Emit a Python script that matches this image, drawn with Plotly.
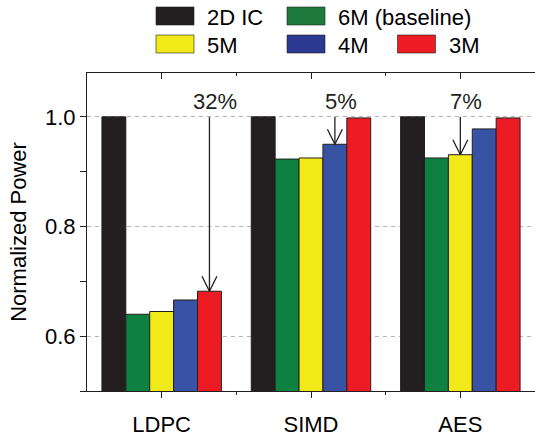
import plotly.graph_objects as go

# ---------------- data ----------------
categories = ["LDPC", "SIMD", "AES"]
series_names = ["2D IC", "6M (baseline)", "5M", "4M", "3M"]
val_2d = [1.000, 1.000, 1.000]
val_6m = [0.640, 0.923, 0.925]
val_5m = [0.645, 0.925, 0.931]
val_4m = [0.666, 0.950, 0.978]
val_3m = [0.682, 0.998, 0.998]
bar_colors = ["#231f20", "#0e8140", "#f2e918", "#3953a4", "#ed1c24"]
legend_colors = ["#231f20", "#1e7b3d", "#f2e918", "#2b3990", "#ed1c24"]

# arrows: which series is pointed at in each group, and the label
arrow_series = ["3M", "4M", "5M"]
arrow_labels = ["32%", "5%", "7%"]
arrow_top = 1.0

y_range = [0.5, 1.08]
y_ticks = [0.6, 0.8, 1.0]

# ---------------- layout constants ----------------
W, H = 535, 436
ML, MR, MT, MB = 87, 0, 73, 45
FONT = "Liberation Sans, Arial, Helvetica, sans-serif"
INK = "#231f20"
BARGAP = 0.2

all_vals = [val_2d, val_6m, val_5m, val_4m, val_3m]
xs = list(range(len(categories)))
n = len(series_names)
bw = (1 - BARGAP) / n

fig = go.Figure()
for name, vals, col in zip(series_names, all_vals, bar_colors):
    fig.add_trace(go.Bar(
        x=xs, y=vals, name=name, marker=dict(color=col, line=dict(color=INK, width=1)),
        showlegend=False, hoverinfo="skip",
    ))

# arrows (shaft + open V head) built from the data
ax_x, ax_y = [], []
px_per_x = (W - ML - MR) / (len(categories) - 0.5 + 0.5 + 0.0 - 0.013)  # approx
head_dx = 7.5 / 150.0
head_dy = 15.0 / ((H - MT - MB) / (y_range[1] - y_range[0]))
for i, (sname, lab) in enumerate(zip(arrow_series, arrow_labels)):
    k = series_names.index(sname)
    xc = i - (1 - BARGAP) / 2 + bw * (k + 0.5)
    yt = all_vals[k][i]
    ax_x += [xc, xc, None, xc - head_dx, xc, xc + head_dx, None]
    ax_y += [arrow_top, yt, None, yt + head_dy, yt, yt + head_dy, None]
    fig.add_annotation(x=xc, y=arrow_top, xref="x", yref="y", text=lab, showarrow=False,
                       xanchor="center", yanchor="middle", yshift=15, xshift=6,
                       font=dict(family=FONT, size=22, color=INK))
fig.add_trace(go.Scatter(x=ax_x, y=ax_y, mode="lines", line=dict(color=INK, width=1.3),
                         showlegend=False, hoverinfo="skip"))

# helper trace for top axis
fig.add_trace(go.Scatter(x=[None], y=[None], xaxis="x2", showlegend=False, hoverinfo="skip"))

# ---------------- manual legend ----------------
pw, ph = W - ML - MR, H - MT - MB
def px2paper(px, py):
    return (px - ML) / pw, (H - MB - py) / ph

legend_pos = {  # swatch left x, row center y (pixels)
    "2D IC": (156, 16), "6M (baseline)": (287, 16),
    "5M": (156, 44), "4M": (287, 44), "3M": (397.5, 44),
}
for name, col in zip(series_names, legend_colors):
    sx, sy = legend_pos[name]
    x0, y0 = px2paper(sx, sy + 9)
    x1, y1 = px2paper(sx + 38, sy - 9)
    fig.add_shape(type="rect", xref="paper", yref="paper", x0=x0, y0=y0, x1=x1, y1=y1,
                  fillcolor=col, line=dict(color=INK, width=0.6))
    tx, ty = px2paper(sx + 49, sy + 1)
    fig.add_annotation(x=tx, y=ty, xref="paper", yref="paper", text=name, showarrow=False,
                       xanchor="left", yanchor="middle",
                       font=dict(family=FONT, size=22, color="black"))

axis_common = dict(linecolor=INK, linewidth=1, zeroline=False)
fig.update_layout(
    width=W, height=H, autosize=False,
    margin=dict(l=ML, r=MR, t=MT, b=MB),
    paper_bgcolor="white", plot_bgcolor="white",
    barmode="group", bargap=BARGAP, bargroupgap=0,
    showlegend=False,
    font=dict(family=FONT, size=22, color="black"),
    xaxis=dict(
        range=[-0.5, len(categories) - 0.5], tickmode="array", tickvals=xs, ticktext=categories,
        showline=True, ticks="outside", ticklen=6, tickcolor=INK, showgrid=False,
        ticklabelstandoff=8,
        minor=dict(tickmode="array", tickvals=[x + 0.5 for x in xs[:-1]], ticks="outside",
                   ticklen=3, tickcolor=INK, showgrid=False),
        tickfont=dict(family=FONT, size=22, color="black"), **axis_common,
    ),
    xaxis2=dict(
        overlaying="x", side="top", anchor="y", matches="x",
        range=[-0.5, len(categories) - 0.5], tickmode="array", tickvals=xs,
        showticklabels=False, showline=True, ticks="inside", ticklen=6, tickcolor=INK,
        showgrid=False,
        minor=dict(tickmode="array", tickvals=[x + 0.5 for x in xs[:-1]], ticks="inside",
                   ticklen=3, tickcolor=INK, showgrid=False),
        **axis_common,
    ),
    yaxis=dict(
        range=y_range, tickmode="array", tickvals=y_ticks, tickformat=".1f",
        showline=True, ticks="outside", ticklen=6, tickcolor=INK,
        showgrid=True, gridcolor="#b5b5b5", gridwidth=1, griddash="4px,4px",
        minor=dict(dtick=0.1, tick0=0, ticks="outside", ticklen=6, tickcolor=INK, showgrid=False),
        title=dict(text="Normalized Power", font=dict(family=FONT, size=22, color="black"),
                   standoff=12),
        tickfont=dict(family=FONT, size=22, color="black"), **axis_common,
    ),
)

fig.write_html("out.html")
